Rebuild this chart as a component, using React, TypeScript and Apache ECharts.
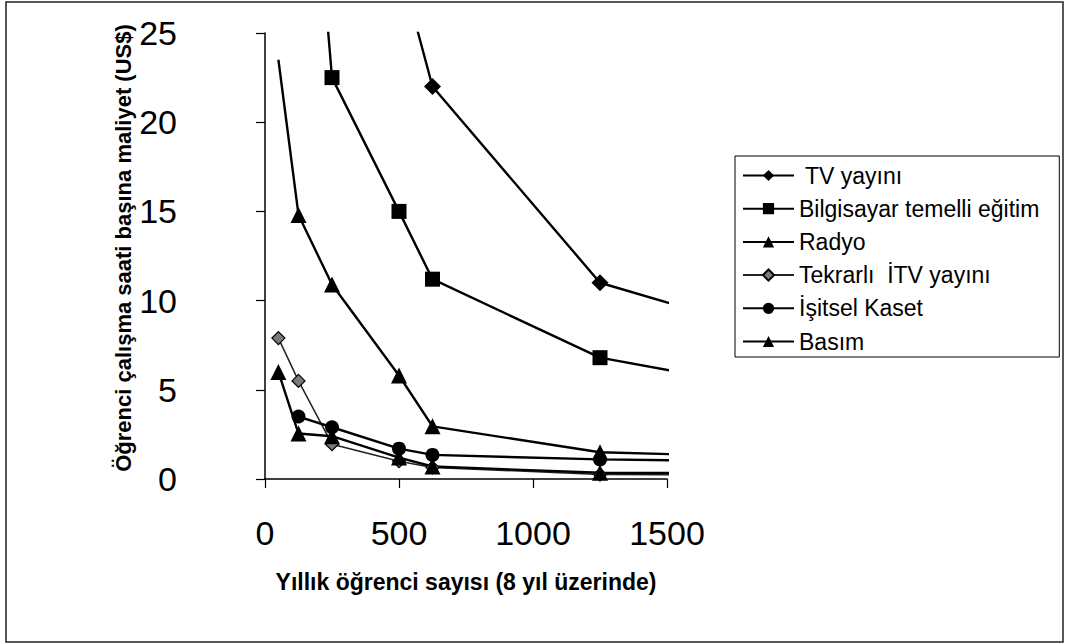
import React, { useEffect, useRef } from 'react';
import * as echarts from 'echarts';

const FONT = '"Liberation Sans", Arial, Helvetica, sans-serif';

const seriesNames = [' TV yayını', 'Bilgisayar temelli eğitim', 'Radyo', 'Tekrarlı  İTV yayını', 'İşitsel Kaset', 'Basım'];

const tvX = [500, 625, 1250, 2500];
const tvY = [29, 22, 11, 5.5];

const bteX = [125, 250, 500, 625, 1250, 2500];
const bteY = [45, 22.5, 15, 11.2, 6.8, 3.4];

const radyoX = [50, 125, 250, 500, 625, 1250, 2500];
const radyoY = [23.5, 14.8, 10.9, 5.8, 2.95, 1.5, 1.0];

const tekrarliX = [50, 125, 250, 500, 625, 1250, 2500];
const tekrarliY = [7.9, 5.5, 1.95, 1.0, 0.65, 0.25, 0.2];

const kasetX = [125, 250, 500, 625, 1250, 2500];
const kasetY = [3.5, 2.9, 1.7, 1.35, 1.1, 0.85];

const basimX = [50, 125, 250, 500, 625, 1250, 2500];
const basimY = [6.0, 2.55, 2.4, 1.2, 0.7, 0.35, 0.3];

const xTicks = { min: 0, max: 1500, interval: 500 };
const yTicks = { min: 0, max: 25, interval: 5 };

const xTitle = 'Yıllık öğrenci sayısı (8 yıl üzerinde)';
const yTitle = 'Öğrenci çalışma saati başına maliyet (US$)';

function pairs(xs: number[], ys: number[]) {
  return xs.map((x, i) => [x, ys[i]]);
}

export default function App() {
  const ref = useRef<HTMLDivElement>(null);
  useEffect(() => {
    const chart = echarts.init(ref.current!, null, { renderer: 'svg' });
    const black = '#000';
    const mk = (name: string, data: any[], symbol: string, size: number, opts: any = {}) => ({
      name,
      type: 'line',
      data,
      symbol,
      symbolSize: size,
      clip: true,
      lineStyle: { color: black, width: 2.4 },
      itemStyle: { color: black, borderColor: black, borderWidth: 0 },
      emphasis: { disabled: true },
      ...opts,
    });
    const radyoData: any[] = pairs(radyoX, radyoY);
    radyoData[0] = { value: radyoData[0], symbol: 'none' };

    chart.setOption({
      animation: false,
      backgroundColor: '#fff',
      textStyle: { fontFamily: FONT, color: black },
      grid: { left: 265, top: 33, width: 402, height: 446 },
      xAxis: {
        type: 'value',
        min: xTicks.min,
        max: xTicks.max,
        interval: xTicks.interval,
        splitLine: { show: false },
        axisLine: { show: true, lineStyle: { color: black, width: 1.5 } },
        axisTick: { show: true, length: 9, lineStyle: { color: black, width: 1.2 } },
        axisLabel: {
          fontSize: 34,
          color: black,
          fontFamily: FONT,
          margin: 37,
          formatter: (v: number) => String(v),
        },
        name: xTitle,
        nameLocation: 'middle',
        nameGap: 91,
        nameTextStyle: { fontSize: 23, fontWeight: 'bold', color: black, fontFamily: FONT },
      },
      yAxis: {
        type: 'value',
        min: yTicks.min,
        max: yTicks.max,
        interval: yTicks.interval,
        splitLine: { show: false },
        axisLine: { show: true, lineStyle: { color: black, width: 1.5 } },
        axisTick: { show: true, length: 9, lineStyle: { color: black, width: 1.2 } },
        axisLabel: {
          fontSize: 34,
          color: black,
          fontFamily: FONT,
          margin: 88,
          formatter: (v: number) => String(v),
        },
      },
      legend: {
        orient: 'vertical',
        left: 735,
        top: 156,
        itemWidth: 51,
        itemHeight: 14,
        itemGap: 10.2,
        padding: [8, 20, 4, 7],
        borderColor: black,
        borderWidth: 1,
        backgroundColor: '#fff',
        selectedMode: false,
        textStyle: { fontSize: 23, lineHeight: 22, color: black, fontFamily: FONT },
        data: seriesNames,
      },
      graphic: [
        {
          type: 'rect',
          shape: { x: 6, y: 2, width: 1057, height: 640 },
          style: { fill: 'none', stroke: '#222', lineWidth: 1.5 },
          silent: true,
        },
        {
          type: 'text',
          x: 123,
          y: 248,
          rotation: Math.PI / 2,
          style: {
            text: yTitle,
            font: 'bold 22px "Liberation Sans", Arial, sans-serif',
            fill: black,
            align: 'center',
            verticalAlign: 'middle',
          },
          silent: true,
        },
      ],
      series: [
        mk(seriesNames[0], pairs(tvX, tvY), 'diamond', 17),
        mk(seriesNames[1], pairs(bteX, bteY), 'rect', 15),
        mk(seriesNames[2], radyoData, 'triangle', 16),
        mk(seriesNames[3], pairs(tekrarliX, tekrarliY), 'diamond', 13, {
          lineStyle: { color: '#222', width: 1.5 },
          itemStyle: { color: '#7a7a7a', borderColor: black, borderWidth: 1.2 },
        }),
        mk(seriesNames[4], pairs(kasetX, kasetY), 'circle', 14),
        mk(seriesNames[5], pairs(basimX, basimY), 'triangle', 16),
      ],
    });
    return () => chart.dispose();
  }, []);
  return (
    <div
      ref={ref}
      style={{ position: 'absolute', left: 0, top: 0, width: 1071, height: 644, background: '#fff' }}
    />
  );
}
